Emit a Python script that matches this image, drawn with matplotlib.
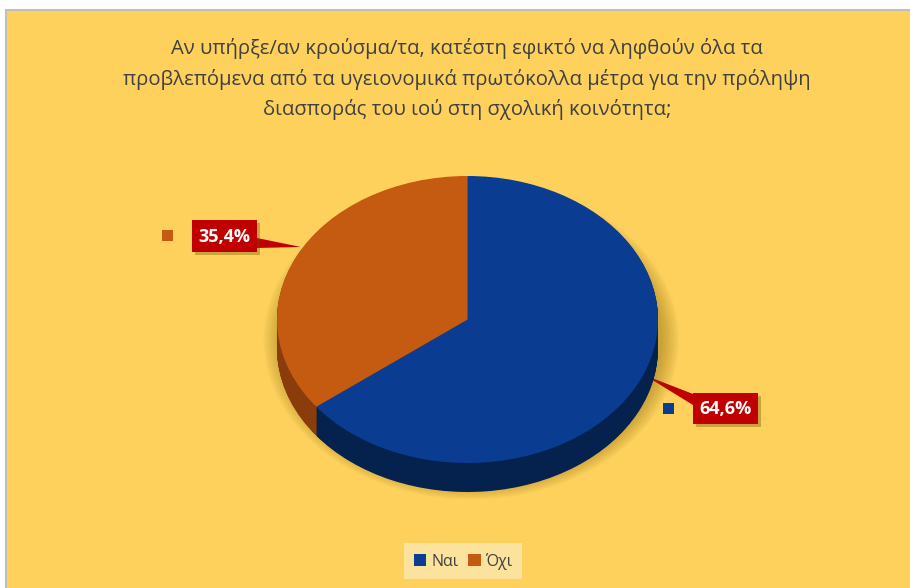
import matplotlib.pyplot as plt
from matplotlib.patches import Rectangle, Polygon, Ellipse, Patch
import numpy as np

plt.rcParams['font.family'] = ['Open Sans', 'DejaVu Sans']

labels = ['Ναι', 'Όχι']
values = [64.6, 35.4]
value_text = ['64,6%', '35,4%']
top_colors = ['#0a3d91', '#c55a11']
side_colors = ['#05224f', '#8a3c0b']
title = ("Αν υπήρξε/αν κρούσμα/τα, κατέστη εφικτό να ληφθούν όλα τα\n"
         "προβλεπόμενα από τα υγειονομικά πρωτόκολλα μέτρα για την πρόληψη\n"
         "διασποράς του ιού στη σχολική κοινότητα;")

W, H = 910, 588
fig = plt.figure(figsize=(W / 100, H / 100), dpi=100)
fig.patch.set_facecolor('white')

# background axes in pixel units (y grows downwards)
bg = fig.add_axes([0, 0, 1, 1])
bg.set_xlim(0, W)
bg.set_ylim(H, 0)
bg.axis('off')
bg.add_patch(Rectangle((6, 10), W, H, fc='#fdd15c', ec='#bfbfbf', lw=1.5))

bg.text(467, 79, title, ha='center', va='center', fontsize=14.6,
        color='#404040', linespacing=1.6)

# pie geometry (pixels)
cx, cy, rx, ry, depth = 467.5, 319.5, 190.5, 143.5, 29

ax = fig.add_axes([(cx - rx) / W, (H - cy - ry - depth) / H,
                   2 * rx / W, (2 * ry + depth) / H])
ax.axis('off')

# soft shadow under the pie
for k in range(12):
    s = 1.09 - k * 0.008
    ax.add_patch(Ellipse((0.02, -depth / ry * 0.7), 2 * s, 2 * s * 1.02,
                         fc='#7a5a00', ec='none', alpha=0.035, clip_on=False))

# side wall: stacked pies going downwards
n = 40
for k in range(n, 0, -1):
    off = -depth / ry * k / n
    ax.pie(values, colors=side_colors, startangle=90, counterclock=False,
           center=(0, off), radius=1, wedgeprops=dict(lw=0, clip_on=False))

# top face
ax.pie(values, colors=top_colors, startangle=90, counterclock=False,
       center=(0, 0), radius=1, wedgeprops=dict(lw=0, clip_on=False))
ax.set_xlim(-1, 1)
ax.set_ylim(-1 - depth / ry, 1)
ax.set_aspect('auto')

# data labels with callouts
boxes = [(693, 393, 65, 31), (192, 220, 65, 32)]
bases = [(1, 12), (18, 28)]
keys = [(663, 403), (162, 230)]
total = sum(values)
start = 90.0
for i, v in enumerate(values):
    span = 360.0 * v / total
    mid = np.radians(start - span / 2)
    start -= span
    px = cx + rx * np.cos(mid) + (6 if i == 0 else 4)
    py = cy - ry * np.sin(mid) - (8 if i == 0 else 9)
    bx, by, bw, bh = boxes[i]
    ex = bx + bw if px > bx else bx
    b0, b1 = bases[i]
    bg.add_patch(Polygon([(px, py), (ex, by + b0), (ex, by + b1)],
                         closed=True, fc='#c00000', ec='none', zorder=3))
    bg.add_patch(Rectangle((bx + 3, by + 3), bw, bh, fc='#6b5100',
                           ec='none', alpha=0.35, zorder=3))
    bg.add_patch(Rectangle((bx, by), bw, bh, fc='#c00000', ec='none', zorder=4))
    bg.text(bx + bw / 2, by + bh / 2 + 1, value_text[i], ha='center',
            va='center', color='white', fontsize=13, fontweight='bold', zorder=5)
    kx, ky = keys[i]
    bg.add_patch(Rectangle((kx, ky), 11, 11, fc=top_colors[i], ec='none', zorder=4))

handles = [Patch(fc=c, ec='none') for c in top_colors]
leg = bg.legend(handles, labels, loc='center', ncol=2,
                bbox_to_anchor=(463 / W, (H - 561) / H), frameon=True,
                fancybox=False, facecolor='#fbe39d', edgecolor='none',
                framealpha=1, fontsize=11.5, handlelength=0.8, handleheight=0.8,
                handletextpad=0.3, columnspacing=0.6, borderpad=0.6)
for t in leg.get_texts():
    t.set_color('#404040')

fig.savefig('out.png', dpi=100, facecolor='white')
